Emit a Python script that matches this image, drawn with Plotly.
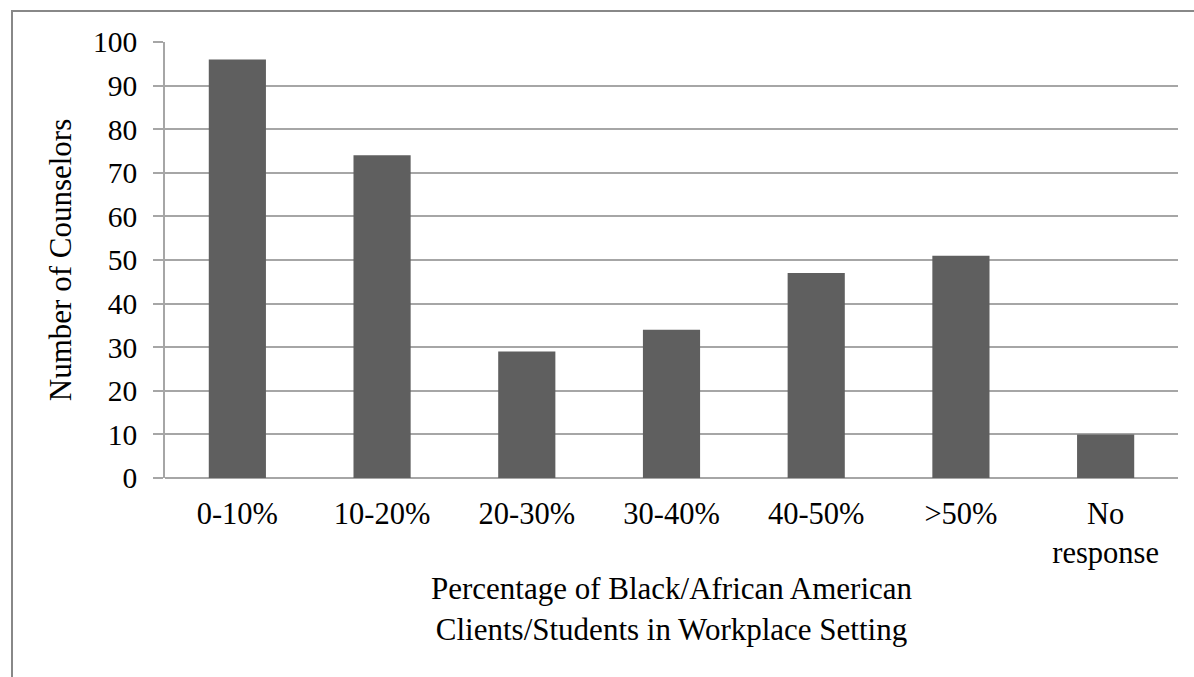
import plotly.graph_objects as go

categories = ["0-10%", "10-20%", "20-30%", "30-40%", "40-50%", ">50%", "No<br>response"]
counts = [96, 74, 29, 34, 47, 51, 10]
y_ticks = [0, 10, 20, 30, 40, 50, 60, 70, 80, 90, 100]

FONT = "Liberation Serif, Times New Roman, serif"
GRID = "#a6a6a6"

fig = go.Figure(go.Bar(x=categories, y=counts, marker=dict(color="#5f5f5f", line=dict(width=0)), width=0.395))

fig.update_layout(
    width=1194, height=677,
    margin=dict(l=165, r=16, t=42, b=199),
    paper_bgcolor="white", plot_bgcolor="white",
    font=dict(family=FONT, size=30, color="black"),
    showlegend=False,
)
fig.update_xaxes(
    showgrid=False, ticks="", showline=False, zeroline=False,
    ticklabelstandoff=14,
    tickfont=dict(size=30.5),
    title=dict(text="Percentage of Black/African American<br>Clients/Students in Workplace Setting", standoff=8, font=dict(size=31)),
)
fig.update_yaxes(
    range=[0, 100], tickvals=y_ticks, showgrid=True, gridcolor=GRID, gridwidth=1.5,
    ticks="outside", ticklen=10, tickcolor=GRID, tickwidth=1.5,
    showline=True, linecolor=GRID, linewidth=1.5, zeroline=True, zerolinecolor=GRID, zerolinewidth=1.5,
    ticklabelstandoff=10,
    tickfont=dict(size=29.5),
    title=dict(text="Number of Counselors", standoff=12, font=dict(size=31)),
)
# bottom baseline extending under the tick region
fig.add_shape(type="line", xref="paper", yref="y", x0=-10/1013, x1=1, y0=0, y1=0, line=dict(color=GRID, width=1.5), layer="below")
# outer chart border
fig.add_shape(type="rect", xref="paper", yref="paper", x0=(12-165)/1013, x1=1.2, y0=-0.6, y1=1+31/436,
              line=dict(color="#888888", width=2), fillcolor="rgba(0,0,0,0)")

fig.write_html("out.html")
